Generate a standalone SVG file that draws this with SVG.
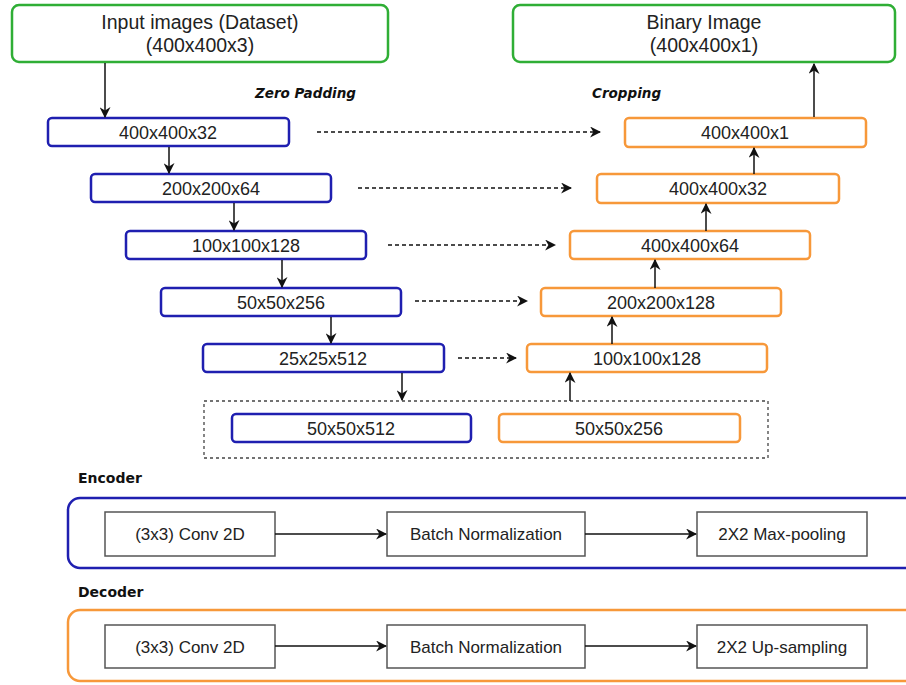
<svg xmlns="http://www.w3.org/2000/svg" width="906" height="685" viewBox="0 0 906 685">
<defs>
<marker id="ah" viewBox="0 0 10 10" refX="9" refY="5" markerWidth="11" markerHeight="11" markerUnits="userSpaceOnUse" orient="auto">
<path d="M0,0 L10,5 L0,10 L3,5 Z" fill="#111"/>
</marker>
<style>
.g{fill:#fff;stroke:#2fae35;stroke-width:2.5}
.b{fill:#fff;stroke:#1f1fb0;stroke-width:2.5}
.o{fill:#fff;stroke:#f7983a;stroke-width:2.5}
.p{fill:#fff;stroke:#555;stroke-width:1.5}
.t{font-family:"Liberation Sans",Arial,sans-serif;font-size:18px;fill:#222;text-anchor:middle}
.h{font-family:"Liberation Sans",Arial,sans-serif;font-size:19.5px;fill:#222;text-anchor:middle}
.s{font-family:"Liberation Sans",Arial,sans-serif;font-size:17px;fill:#222;text-anchor:middle}
.lb{font-family:"DejaVu Sans",sans-serif;font-weight:bold;font-size:14px;fill:#111}
.li{font-family:"DejaVu Sans",sans-serif;font-weight:bold;font-style:italic;font-size:13.5px;fill:#111}
.a{stroke:#111;stroke-width:1.5;fill:none;marker-end:url(#ah)}
.d{stroke:#111;stroke-width:1.3;fill:none;stroke-dasharray:4 3;marker-end:url(#ah)}
</style>
</defs>
<rect width="906" height="685" fill="#fff"/>

<g id="labels">
<text class="li" x="255" y="98">Zero Padding</text>
<text class="li" x="592" y="98">Cropping</text>
<text class="lb" x="78" y="483">Encoder</text>
<text class="lb" x="78" y="597">Decoder</text>
</g>

<g id="input"><rect class="g" x="12" y="5" width="376" height="57" rx="7"/>
<text class="h" x="200" y="29">Input images (Dataset)</text><text class="h" x="200" y="52">(400x400x3)</text></g>
<g id="binary"><rect class="g" x="513" y="5" width="382" height="57" rx="7"/>
<text class="h" x="704" y="29">Binary Image</text><text class="h" x="704" y="52">(400x400x1)</text></g>

<g id="e1"><rect class="b" x="48" y="118" width="241" height="28" rx="4"/><text class="t" x="168" y="139">400x400x32</text></g>
<g id="e2"><rect class="b" x="91" y="174" width="240" height="28" rx="4"/><text class="t" x="211" y="195">200x200x64</text></g>
<g id="e3"><rect class="b" x="126" y="231" width="240" height="28" rx="4"/><text class="t" x="246" y="252">100x100x128</text></g>
<g id="e4"><rect class="b" x="161" y="288" width="240" height="28" rx="4"/><text class="t" x="281" y="309">50x50x256</text></g>
<g id="e5"><rect class="b" x="203" y="344" width="241" height="28" rx="4"/><text class="t" x="323" y="365">25x25x512</text></g>

<g id="bottleneck"><rect x="204" y="401" width="564" height="57" fill="none" stroke="#444" stroke-width="1.3" stroke-dasharray="3 3"/></g>
<g id="b1"><rect class="b" x="232" y="414" width="239" height="28" rx="4"/><text class="t" x="351" y="435">50x50x512</text></g>
<g id="b2"><rect class="o" x="499" y="414" width="241" height="28" rx="4"/><text class="t" x="619" y="435">50x50x256</text></g>

<g id="d1"><rect class="o" x="625" y="118" width="241" height="29" rx="4"/><text class="t" x="745" y="139">400x400x1</text></g>
<g id="d2"><rect class="o" x="597" y="174" width="242" height="29" rx="4"/><text class="t" x="718" y="195">400x400x32</text></g>
<g id="d3"><rect class="o" x="570" y="231" width="240" height="28" rx="4"/><text class="t" x="690" y="252">400x400x64</text></g>
<g id="d4"><rect class="o" x="541" y="288" width="240" height="28" rx="4"/><text class="t" x="661" y="309">200x200x128</text></g>
<g id="d5"><rect class="o" x="527" y="344" width="240" height="28" rx="4"/><text class="t" x="647" y="365">100x100x128</text></g>

<g id="encoder-legend">
<rect x="68" y="498" width="860" height="70" rx="12" fill="none" stroke="#1f1fb0" stroke-width="2.5"/>
<rect class="p" x="105" y="512" width="170" height="44"/><text class="s" x="190" y="540">(3x3) Conv 2D</text>
<rect class="p" x="387" y="512" width="198" height="44"/><text class="s" x="486" y="540">Batch Normalization</text>
<rect class="p" x="697" y="512" width="170" height="44"/><text class="s" x="782" y="540">2X2 Max-pooling</text>
</g>
<g id="decoder-legend">
<rect x="68" y="610" width="860" height="71" rx="12" fill="none" stroke="#f7983a" stroke-width="2.5"/>
<rect class="p" x="105" y="625" width="170" height="43"/><text class="s" x="190" y="653">(3x3) Conv 2D</text>
<rect class="p" x="387" y="625" width="198" height="43"/><text class="s" x="486" y="653">Batch Normalization</text>
<rect class="p" x="697" y="625" width="170" height="43"/><text class="s" x="782" y="653">2X2 Up-sampling</text>
</g>

<g id="connectors">
<line class="a" x1="105" y1="63" x2="105" y2="117"/>
<line class="a" x1="169" y1="147" x2="169" y2="173"/>
<line class="a" x1="234" y1="203" x2="234" y2="230"/>
<line class="a" x1="282" y1="260" x2="282" y2="287"/>
<line class="a" x1="331" y1="317" x2="331" y2="343"/>
<line class="a" x1="402" y1="373" x2="402" y2="400"/>
<line class="a" x1="570" y1="401" x2="570" y2="373"/>
<line class="a" x1="612" y1="344" x2="612" y2="317"/>
<line class="a" x1="655" y1="288" x2="655" y2="260"/>
<line class="a" x1="706" y1="231" x2="706" y2="204"/>
<line class="a" x1="754" y1="174" x2="754" y2="148"/>
<line class="a" x1="814" y1="117" x2="814" y2="64"/>
<line class="d" x1="317" y1="132" x2="600" y2="132"/>
<line class="d" x1="358" y1="188" x2="571" y2="188"/>
<line class="d" x1="388" y1="245" x2="555" y2="245"/>
<line class="d" x1="415" y1="301" x2="527" y2="301"/>
<line class="d" x1="458" y1="358" x2="516" y2="358"/>
<line class="a" x1="275" y1="534" x2="386" y2="534"/>
<line class="a" x1="585" y1="534" x2="696" y2="534"/>
<line class="a" x1="275" y1="646" x2="386" y2="646"/>
<line class="a" x1="585" y1="646" x2="696" y2="646"/>
</g>
</svg>
